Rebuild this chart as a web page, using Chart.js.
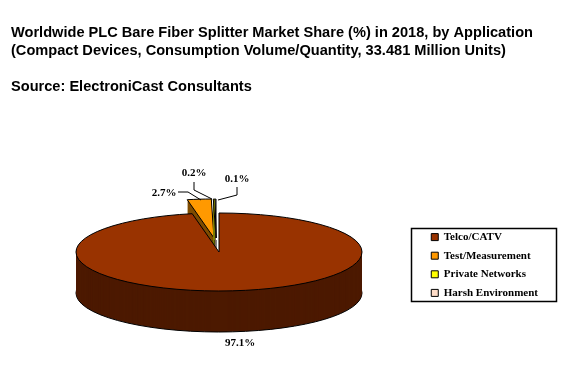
<!DOCTYPE html>
<html>
<head>
<meta charset="utf-8">
<script src="https://cdn.jsdelivr.net/npm/chart.js@4"></script>
<style>
  body { margin: 0; background: #fff; }
  canvas { display: block; }
</style>
</head>
<body>
<canvas id="grafico" width="572" height="366"></canvas>
<script>
const categorias = ["Telco/CATV", "Test/Measurement", "Private Networks", "Harsh Environment"];
const valores = [97.1, 2.7, 0.2, 0.1];
const titulo = [
  "Worldwide PLC Bare Fiber Splitter Market Share (%) in 2018, by Application",
  "(Compact Devices, Consumption Volume/Quantity, 33.481 Million Units)",
  "",
  "Source: ElectroniCast Consultants"
];
const cores = ["#993300", "#FF9900", "#FFFF00", "#FFDDC8"];
const coresLado = ["#4C1900", "#7F4C00", "#7F7F00", "#7F6E64"];

// geometria da pizza na tela
const centroX = 219, centroY = 252, raioX = 143, raioY = 39, altura = 41;
// deslocamento das fatias destacadas, em px
const destaque = [[0, 0], [-5, -14], [-3, -14], [-3, -14]];

// rotulos: texto em x,y e linha guia
const rotulos = [
  { i: 0, x: 240, y: 343 },
  { i: 1, x: 164, y: 193, linha: [[178, 192], [188, 192], [201, 200]] },
  { i: 2, x: 194, y: 173, linha: [[194, 182], [194, 190], [212, 199]] },
  { i: 3, x: 237, y: 179, linha: [[237, 187], [237, 195], [218, 200]] }
];

function transformar(ctx, arc, i, d) {
  const r = arc.outerRadius;
  ctx.translate(centroX + destaque[i][0], centroY + destaque[i][1] + d);
  ctx.scale(raioX / r, raioY / r);
  ctx.translate(-arc.x, -arc.y);
}

const pizza3d = {
  id: "pizza3d",
  afterLayout(chart) {
    // desce a legenda para o lado da pizza
    chart.legend.top += 82;
    chart.legend.bottom += 82;
  },
  beforeDatasetsDraw(chart) {
    const ctx = chart.ctx;
    const arcos = chart.getDatasetMeta(0).data;
    // as fatias pequenas primeiro, a fatia grande cobre o que sobra
    const ordem = [1, 2, 3, 0];

    // traco uniforme mesmo com o contexto achatado
    const strokeOriginal = ctx.stroke;
    ctx.stroke = function () {
      const largura = ctx.lineWidth;
      ctx.save();
      ctx.setTransform(1, 0, 0, 1, 0, 0);
      ctx.lineWidth = largura;
      strokeOriginal.call(ctx);
      ctx.restore();
    };

    ordem.forEach((i) => {
      const arc = arcos[i];
      const op = arc.options;
      const fundo = op.backgroundColor, borda = op.borderWidth;
      op.backgroundColor = coresLado[i];
      for (let d = altura; d > 0; d--) {
        ctx.save();
        transformar(ctx, arc, i, d);
        op.borderWidth = d === altura ? 1 : 0;
        arc.draw(ctx);
        ctx.restore();
      }
      op.backgroundColor = fundo;
      op.borderWidth = borda;
      ctx.save();
      transformar(ctx, arc, i, 0);
      arc.draw(ctx);
      ctx.restore();
    });

    delete ctx.stroke;
    return false;
  },
  afterDraw(chart) {
    const ctx = chart.ctx;
    ctx.save();
    ctx.fillStyle = "#000";
    ctx.strokeStyle = "#000";
    ctx.lineWidth = 1;
    ctx.font = "bold 11px 'Liberation Serif'";
    ctx.textAlign = "center";
    ctx.textBaseline = "middle";
    rotulos.forEach((r) => {
      ctx.fillText(valores[r.i] + "%", r.x, r.y);
      if (r.linha) {
        ctx.beginPath();
        r.linha.forEach((p, n) => (n ? ctx.lineTo(p[0], p[1]) : ctx.moveTo(p[0], p[1])));
        ctx.stroke();
      }
    });
    // caixa da legenda
    ctx.lineWidth = 1.5;
    ctx.strokeRect(411.5, 228.5, 145, 73);
    ctx.restore();
  }
};

new Chart(document.getElementById("grafico").getContext("2d"), {
  type: "pie",
  data: {
    labels: categorias,
    datasets: [
      {
        data: valores,
        backgroundColor: cores,
        borderColor: "#000",
        borderWidth: 1,
      },
    ],
  },
  options: {
    responsive: false,
    animation: false,
    layout: { padding: { left: 11, right: 24 } },
    plugins: {
      title: {
        display: true,
        text: titulo,
        align: "start",
        color: "#000",
        font: { family: "'Liberation Sans'", size: 14.6, weight: "bold", lineHeight: 1.23 },
        padding: { top: 24, bottom: 69 },
      },
      legend: {
        position: "right",
        labels: {
          color: "#000",
          boxWidth: 7,
          boxHeight: 7,
          padding: 7.6,
          font: { family: "'Liberation Serif'", size: 11, weight: "bold" },
        },
      },
      tooltip: { enabled: false },
    },
  },
  plugins: [pizza3d],
});
</script>
</body>
</html>
